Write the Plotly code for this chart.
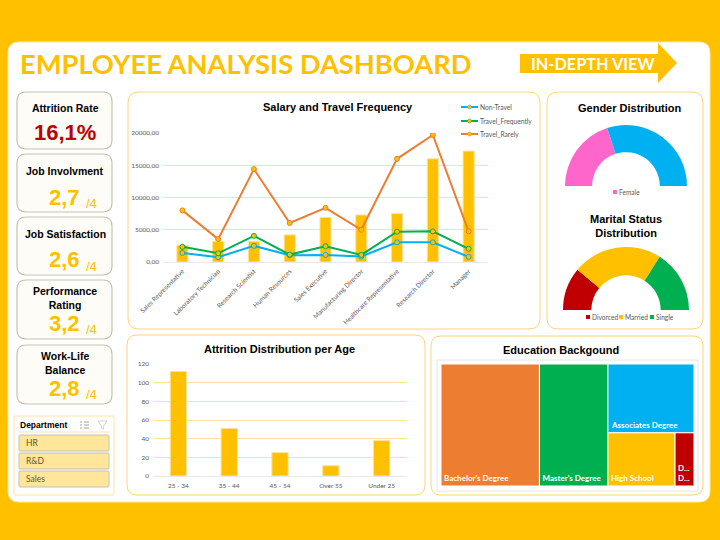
import plotly.graph_objects as go

W = 720
H = 540

GOLD = "#FFC000"
BLUE = "#00B0F0"
GREEN = "#00B050"
ORANGE = "#ED7D31"
RED = "#C00000"
PINK = "#FF66CC"

# Salary and travel
job_roles = ["Sales Representative", "Laboratory Technician", "Research Scientist",
             "Human Resources", "Sales Executive", "Manufacturing Director",
             "Healthcare Representative", "Research Director", "Manager"]
avg_salary = [2600, 3200, 3200, 4200, 6900, 7300, 7500, 16000, 17200]
non_travel = [1400, 750, 2500, 1050, 1100, 850, 3050, 3050, 800]
travel_frequently = [2350, 1350, 4050, 1150, 2450, 1100, 4700, 4750, 2050]
travel_rarely = [8000, 3550, 14400, 6050, 8400, 5000, 16000, 19700, 4750]

# Attrition per age
age_groups = ["25 - 34", "35 - 44", "45 - 54", "Over 55", "Under 25"]
age_attrition = [112, 51, 25, 11, 38]

# Gauges
gender_labels = ["Female", "Male"]
gender_values = [40, 60]
marital_labels = ["Divorced", "Married", "Single"]
marital_values = [22, 46, 32]

# Education treemap
edu_labels = ["Bachelor's Degree", "Master's Degree", "Associates Degree", "High School", "Doctor Degree"]
edu_text = ["Bachelor's Degree", "Master's Degree", "Associates Degree", "High School", "D...<br>D..."]
edu_values = [572, 398, 282, 170, 48]

# KPI cards
kpi_labels = ["Attrition Rate", "Job Involvment", "Job Satisfaction", "Performance<br>Rating", "Work-Life<br>Balance"]
kpi_values = ["16,1%", "2,7", "2,6", "3,2", "2,8"]

departments = ["HR", "R&D", "Sales"]


def px(x):
    return x / W


def py(y):
    return 1 - y / H


def rounded(x0, y0, x1, y1, r):
    return (f"M{px(x0 + r)},{py(y0)} L{px(x1 - r)},{py(y0)} Q{px(x1)},{py(y0)} {px(x1)},{py(y0 + r)} "
            f"L{px(x1)},{py(y1 - r)} Q{px(x1)},{py(y1)} {px(x1 - r)},{py(y1)} "
            f"L{px(x0 + r)},{py(y1)} Q{px(x0)},{py(y1)} {px(x0)},{py(y1 - r)} "
            f"L{px(x0)},{py(y0 + r)} Q{px(x0)},{py(y0)} {px(x0 + r)},{py(y0)} Z")


shapes = []


def add_box(x0, y0, x1, y1, r, fill, line, width=1):
    shapes.append(dict(type="path", path=rounded(x0, y0, x1, y1, r), xref="paper", yref="paper",
                       fillcolor=fill, line=dict(color=line, width=width), layer="below"))


def add_line(points, color, width=1):
    d = "M" + " L".join(f"{px(a)},{py(b)}" for a, b in points)
    shapes.append(dict(type="path", path=d, xref="paper", yref="paper",
                       line=dict(color=color, width=width), layer="below"))


notes = []


def add_text(x, y, text, size, color="#000000", bold=False, family="Liberation Sans", anchor="center"):
    if bold:
        text = f"<b>{text}</b>"
    notes.append(dict(x=px(x), y=py(y), xref="paper", yref="paper", text=text, showarrow=False,
                      xanchor=anchor, yanchor="middle", align="center",
                      font=dict(size=size, color=color, family=family)))


# background panels
add_box(8, 42, 710, 502, 11, "#FFFFFF", "#FFE9A8")
panel_line = "#FFD27A"
add_box(128, 92, 540, 329, 11, "#FFFFFF", panel_line)
add_box(547, 92, 703, 329, 11, "#FFFFFF", panel_line)
add_box(127, 335, 425, 495, 10, "#FFFFFF", panel_line)
add_box(431, 336, 703, 495, 10, "#FFFFFF", panel_line)

# header
add_text(18, 63, "EMPLOYEE ANALYSIS DASHBOARD", 27.3, GOLD, True, "Lato", "left")
shapes.append(dict(type="path", xref="paper", yref="paper", fillcolor=GOLD, line=dict(width=0), layer="below",
                   path="M" + " L".join(f"{px(a)},{py(b)}" for a, b in
                                        [(520, 54), (658, 54), (658, 43), (677, 63), (658, 83), (658, 73), (520, 73)]) + " Z"))
add_text(593, 64, "IN-DEPTH VIEW", 16.3, "#FFFFFF", True, "Lato")

# KPI cards
card_tops = [92, 154, 217, 280, 345]
card_bottoms = [149, 212, 275, 339, 404]
label_y = [108, 171, 234, 298, 363]
value_y = [133, 197, 260, 323, 388]
for i in range(5):
    add_box(17, card_tops[i], 112, card_bottoms[i], 9, "#FEFCF6", "#C6C1B2", 1.2)
    add_text(65, label_y[i], kpi_labels[i], 10.5, "#000000", True)
    if i == 0:
        add_text(65, value_y[i], kpi_values[i], 22, RED, True)
    else:
        add_text(64, value_y[i], kpi_values[i], 22, GOLD, True)
        add_text(91, value_y[i] + 6, "/4", 13, GOLD)

# department slicer
add_box(14, 416, 114, 495, 1, "#FFFFFF", "#FFE2A8")
add_text(18, 425, "Department", 8.5, "#000000", True, anchor="left")
add_line([(19, 432), (109, 432)], "#FFE2A8", 1)
for k in range(3):
    add_line([(84, 422 + k * 3), (89, 422 + k * 3)], "#8C8C8C", 0.8)
    add_line([(80, 422 + k * 3), (82, 422 + k * 3)], "#8C8C8C", 0.8)
add_line([(98, 421), (107, 421), (103.5, 426), (103.5, 429), (101.5, 428), (101.5, 426), (98, 421)], "#C8C8C8", 0.8)
for k, dep in enumerate(departments):
    y0 = 435 + k * 18
    add_box(19, y0, 109, y0 + 16, 1, "#FFE699", "#BFBFBF", 1)
    add_text(23.5, y0 + 8, dep.replace("&", "&amp;"), 8.5, "#5F5330", anchor="left", family="Lato")

# chart titles
add_text(338, 107, "Salary and Travel Frequency", 11, "#000000", True)
add_text(630, 108, "Gender Distribution", 11, "#000000", True)
add_text(626, 226, "Marital Status<br>Distribution", 11, "#000000", True)
add_text(279, 349, "Attrition Distribution per Age", 11, "#000000", True)
add_text(561, 350, "Education Backgound", 11, "#000000", True)


# gauge legends
def legend_mark(x, y, color, label):
    shapes.append(dict(type="rect", xref="paper", yref="paper", x0=px(x), x1=px(x + 4), y0=py(y + 2), y1=py(y - 2),
                       fillcolor=color, line=dict(width=0)))
    add_text(x + 3.5, y, label, 6.6, "#595959", family="Lato", anchor="left")


legend_mark(613, 192, PINK, gender_labels[0])
legend_mark(586, 317, RED, marital_labels[0])
legend_mark(619, 317, GOLD, marital_labels[1])
legend_mark(650, 317, GREEN, marital_labels[2])

# treemap frame
shapes.append(dict(type="rect", xref="paper", yref="paper", x0=px(437), x1=px(698), y0=py(491), y1=py(360),
                   fillcolor="rgba(0,0,0,0)", line=dict(color="#E4E4E4", width=1), layer="below"))

fig = go.Figure()

# salary chart
fig.add_trace(go.Bar(x=job_roles, y=avg_salary, marker=dict(color=GOLD, line=dict(color="#FFE29A", width=1)),
                     showlegend=False, xaxis="x", yaxis="y", width=0.31))
travel_series = [("Non-Travel", non_travel, BLUE, 107),
                 ("Travel_Frequently", travel_frequently, GREEN, 121),
                 ("Travel_Rarely", travel_rarely, ORANGE, 134)]
for name, vals, col, leg_y in travel_series:
    fig.add_trace(go.Scatter(x=job_roles, y=vals, name=name, mode="lines+markers", showlegend=False,
                             line=dict(color=col, width=2),
                             marker=dict(size=5, color=GOLD, line=dict(color=col, width=1)),
                             xaxis="x", yaxis="y"))
    # legend drawn by hand, plotly cannot space its rows this tight
    add_line([(461, leg_y), (478, leg_y)], col, 2)
    shapes.append(dict(type="circle", xref="paper", yref="paper", x0=px(467.5), x1=px(471.5),
                       y0=py(leg_y + 2), y1=py(leg_y - 2), fillcolor=GOLD, line=dict(color=col, width=0.5)))
    add_text(477.5, leg_y, name, 6.7, "#595959", family="Lato", anchor="left")

# attrition chart
fig.add_trace(go.Bar(x=age_groups, y=age_attrition, marker=dict(color=GOLD, line=dict(color="#FFE29A", width=1)),
                     showlegend=False, xaxis="x2", yaxis="y2", width=0.32))


def pie_domain(cx, cy, r):
    return dict(x=[px(cx - r), px(cx + r)], y=[py(cy + r), py(cy - r)])


# half donuts, the lower half is a transparent slice
fig.add_trace(go.Pie(labels=gender_labels + ["hidden"], values=gender_values + [sum(gender_values)], sort=False,
                     direction="clockwise", rotation=270, hole=0.555, textinfo="none", showlegend=False,
                     hoverinfo="skip", domain=pie_domain(626, 186, 61),
                     marker=dict(colors=[PINK, BLUE, "rgba(0,0,0,0)"], line=dict(width=0))))
fig.add_trace(go.Pie(labels=marital_labels + ["hidden"], values=marital_values + [sum(marital_values)], sort=False,
                     direction="clockwise", rotation=270, hole=0.55, textinfo="none", showlegend=False,
                     hoverinfo="skip", domain=pie_domain(626, 310, 63),
                     marker=dict(colors=[RED, GOLD, GREEN, "rgba(0,0,0,0)"], line=dict(width=0))))

# education
fig.add_trace(go.Treemap(labels=edu_labels, parents=[""] * 5, values=edu_values,
                         text=[f"<b>{t}</b>" for t in edu_text],
                         textinfo="text", sort=True, textposition="bottom left",
                         tiling=dict(packing="squarify", pad=0),
                         pathbar=dict(visible=False),
                         marker=dict(colors=[ORANGE, GREEN, BLUE, GOLD, RED], line=dict(color="#FFFFFF", width=1),
                                     pad=dict(t=0, l=0, r=0, b=0)),
                         textfont=dict(family="Lato", size=8, color="#FFFFFF"),
                         domain=dict(x=[px(441), px(694)], y=[py(486), py(364)])))

tick_font = dict(family="Lato", size=6.5, color="#595959")
grid = "#FFE3A6"
fig.update_layout(
    width=W, height=H, margin=dict(l=0, r=0, t=0, b=0), autosize=False,
    paper_bgcolor=GOLD, plot_bgcolor="rgba(0,0,0,0)",
    separators=",.", shapes=shapes, annotations=notes, bargap=0.3, showlegend=False,
    xaxis=dict(domain=[px(163), px(488)], anchor="y", tickangle=-45, tickfont=tick_font, showgrid=False,
               showline=True, linecolor="#E9E9E9", linewidth=1, ticks="", automargin=False, ticklabelstandoff=2),
    yaxis=dict(domain=[py(262), py(133)], anchor="x", range=[0, 20000], tick0=0, dtick=5000, tickformat=".2f",
               tickfont=tick_font, gridcolor=grid, showline=False, zeroline=False, automargin=False,
               ticklabelstandoff=3),
    xaxis2=dict(domain=[px(153), px(407)], anchor="y2", tickfont=tick_font, showgrid=False,
                showline=True, linecolor="#E9E9E9", linewidth=1, ticks="", automargin=False, ticklabelstandoff=3),
    yaxis2=dict(domain=[py(476), py(364)], anchor="x2", range=[0, 120], dtick=20, tickfont=tick_font,
                gridcolor=grid, showline=False, zeroline=False, automargin=False, ticklabelstandoff=3),
)

fig.write_html("out.html", config={"displayModeBar": False}, post_script="document.body.style.margin='0';")
